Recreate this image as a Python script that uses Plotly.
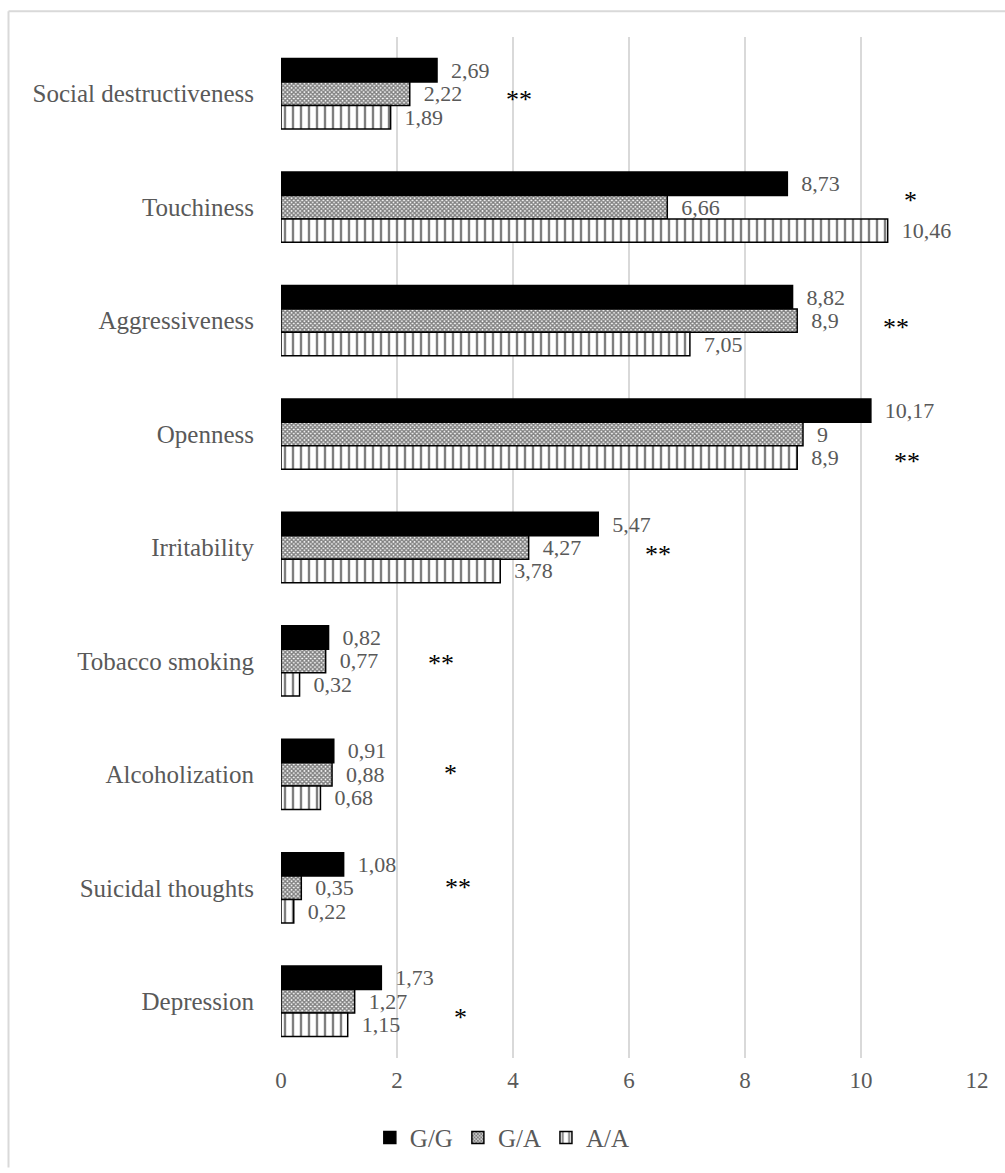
import plotly.graph_objects as go

categories = ["Social destructiveness", "Touchiness", "Aggressiveness", "Openness",
              "Irritability", "Tobacco smoking", "Alcoholization", "Suicidal thoughts", "Depression"]
gg = [2.69, 8.73, 8.82, 10.17, 5.47, 0.82, 0.91, 1.08, 1.73]
ga = [2.22, 6.66, 8.90, 9.00, 4.27, 0.77, 0.88, 0.35, 1.27]
aa = [1.89, 10.46, 7.05, 8.90, 3.78, 0.32, 0.68, 0.22, 1.15]
series_names = ["G/G", "G/A", "A/A"]

# significance marks: (category, x value, y offset within category band, text)
sig_cat = ["Social destructiveness", "Touchiness", "Aggressiveness", "Openness",
           "Irritability", "Tobacco smoking", "Alcoholization", "Suicidal thoughts", "Depression"]
sig_x = [4.1, 10.86, 10.6, 10.8, 6.5, 2.76, 2.93, 3.05, 3.1]
sig_dy = [0.05, -0.06, 0.06, 0.24, 0.06, 0.02, -0.01, 0.0, 0.14]
sig_text = ["**", "*", "**", "**", "**", "**", "*", "**", "*"]

def fmt(v):
    s = ("%g" % v).replace(".", ",")
    return "  " + s

FONT = "Liberation Serif"
GRAY = "#595959"

fig = go.Figure()
styles = [
    dict(color="black", line=dict(color="black", width=1.5)),
    dict(color="white", line=dict(color="black", width=1.5),
         pattern=dict(shape="x", fgcolor="black", bgcolor="white", size=3, solidity=0.7)),
    dict(color="white", line=dict(color="black", width=1.5),
         pattern=dict(shape="|", fgcolor="black", bgcolor="white", size=8, solidity=0.3)),
]
for name, vals, st in zip(series_names, [gg, ga, aa], styles):
    fig.add_trace(go.Bar(
        y=categories, x=vals, name=name, orientation="h",
        marker=st,
        text=[fmt(v) for v in vals], textposition="outside",
        textfont=dict(family=FONT, size=22, color=GRAY),
        constraintext="none", cliponaxis=False,
    ))

for c, x, dy, t in zip(sig_cat, sig_x, sig_dy, sig_text):
    idx = categories.index(c)
    fig.add_annotation(x=x, y=idx + dy, xref="x", yref="y", text=t, showarrow=False,
                       font=dict(family=FONT, size=26, color="black"))

# outer frame (left and top edges)
fig.add_shape(type="line", xref="paper", yref="paper",
              x0=(8.5 - 281) / 696, x1=(8.5 - 281) / 696, y0=(1063 - 1173) / 1026, y1=(1063 - 11) / 1026,
              line=dict(color="#d9d9d9", width=2))
fig.add_shape(type="line", xref="paper", yref="paper",
              x0=(8.5 - 281) / 696, x1=(1005 - 281) / 696, y0=(1063 - 11) / 1026, y1=(1063 - 11) / 1026,
              line=dict(color="#d9d9d9", width=2))

fig.update_layout(
    width=1005, height=1173,
    margin=dict(l=281, r=28, t=37, b=110),
    paper_bgcolor="white", plot_bgcolor="white",
    barmode="group", bargap=0.38, bargroupgap=0.0,
    font=dict(family=FONT, size=24, color=GRAY),
    legend=dict(orientation="h", x=0.318, xanchor="center", y=-0.078, yanchor="middle",
                font=dict(family=FONT, size=25, color=GRAY), itemwidth=30,
                traceorder="normal"),
    showlegend=True,
)
fig.update_xaxes(range=[0, 12], dtick=2, tick0=0, showgrid=True, gridcolor="#d9d9d9", gridwidth=2,
                 zeroline=False, showline=False, ticks="", tickfont=dict(family=FONT, size=23, color=GRAY),
                 ticklabelstandoff=6)
fig.update_yaxes(autorange="reversed", showgrid=False, zeroline=False, showline=False, ticks="",
                 tickfont=dict(family=FONT, size=25, color=GRAY), ticklabelstandoff=26)

fig.write_html("out.html")
